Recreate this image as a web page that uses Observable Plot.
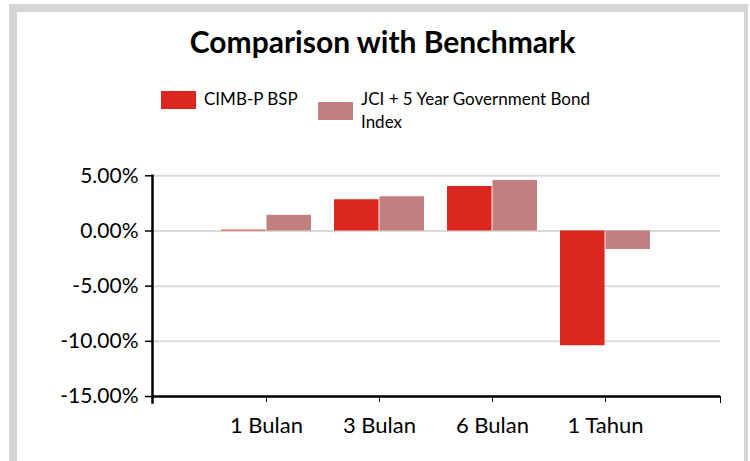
<!DOCTYPE html>
<html><head><meta charset="utf-8">
<script src="https://cdn.jsdelivr.net/npm/d3@7"></script>
<script src="https://cdn.jsdelivr.net/npm/@observablehq/plot@0.6"></script>
<style>
body{margin:0;background:#fff;font-family:Lato,"Open Sans",sans-serif;color:#000}
#page{position:relative;width:750px;height:461px;overflow:hidden;background:#fff}
#frame{position:absolute;left:9px;top:4px;width:727px;height:480px;border-top:8px solid #d4d4d4;border-left:8px solid #d4d4d4;border-right:4px solid #d4d4d4}
#title{position:absolute;left:0;width:765px;top:26px;text-align:center;font-weight:700;font-size:30px;line-height:1;white-space:nowrap}
.sw{position:absolute;width:35px;height:18px}
.lt{position:absolute;font-size:17px;line-height:23px}
#chart{position:absolute;left:0;top:150px}
</style></head>
<body>
<div id="page">
  <div id="frame"></div>
  <div id="title">Comparison with Benchmark</div>
  <div id="legend"></div>
  <div id="chart"></div>
</div>
<script>
const categories = ["1 Bulan", "3 Bulan", "6 Bulan", "1 Tahun"];
const seriesNames = ["CIMB-P BSP", "JCI + 5 Year Government Bond Index"];
const cimbValues = [0.08, 2.83, 4.03, -10.4];
const jciValues = [1.42, 3.10, 4.58, -1.68];
const yTicks = [-15, -10, -5, 0, 5];
const colors = ["#dc2620", "#c27f7f"];

const rows = categories.flatMap((c, i) => [
  {category: c, series: seriesNames[0], value: cimbValues[i]},
  {category: c, series: seriesNames[1], value: jciValues[i]}
]);

// legend
const legend = document.getElementById("legend");
const legendPos = [{sx: 161, sy: 91, tx: 204, ty: 87, w: 120}, {sx: 318, sy: 102, tx: 361, ty: 87, w: 265}];
seriesNames.forEach((s, i) => {
  const sw = document.createElement("div");
  sw.className = "sw";
  sw.style.left = legendPos[i].sx + "px"; sw.style.top = legendPos[i].sy + "px";
  sw.style.background = colors[i];
  legend.appendChild(sw);
  const t = document.createElement("div");
  t.className = "lt";
  t.style.left = legendPos[i].tx + "px"; t.style.top = legendPos[i].ty + "px";
  t.style.width = legendPos[i].w + "px";
  t.textContent = s;
  legend.appendChild(t);
});

const W = 750, H = 311, mL = 152, mR = 30, mT = 25.3, mB = 65;
const padInner = 0.2, padOuter = 0.6;
const step = (W - mL - mR) / (categories.length - padInner + 2 * padOuter);
const half = step * (1 - padInner) / 2;

const chart = Plot.plot({
  width: W, height: H,
  marginLeft: mL, marginRight: mR, marginTop: mT, marginBottom: mB,
  style: {fontFamily: "Lato, 'Open Sans', sans-serif", fontSize: "21px", color: "#000", background: "transparent", overflow: "visible"},
  x: {domain: categories, paddingInner: padInner, paddingOuter: padOuter, axis: null, label: null},
  y: {domain: [-15, 5], axis: null, label: null},
  color: {domain: seriesNames, range: colors},
  marks: [
    Plot.ruleY(yTicks.filter(t => t > -15), {stroke: "#d9d9d9", strokeWidth: 2}),
    Plot.barY(rows.filter(d => d.series === seriesNames[0]), {x: "category", y: "value", fill: "series", insetRight: half}),
    Plot.barY(rows.filter(d => d.series === seriesNames[1]), {x: "category", y: "value", fill: "series", insetLeft: half}),
    Plot.axisY({ticks: yTicks, tickFormat: d => d.toFixed(2) + "%", tickSize: 7, tickPadding: 7, fontSize: 21, stroke: "#000", strokeWidth: 1.5, label: null}),
    Plot.axisX({tickSize: 6, tickPadding: 15, fontSize: 22, stroke: "#000", label: null}),
    Plot.ruleY([-15], {stroke: "#000", strokeWidth: 2.5}),
    Plot.frame({anchor: "left", stroke: "#000", strokeWidth: 2.5, insetBottom: -6}),
    Plot.frame({anchor: "right", stroke: "#000", strokeWidth: 1, insetTop: H - mT - mB, insetBottom: -6})
  ]
});
document.getElementById("chart").appendChild(chart);
</script>
</body></html>
